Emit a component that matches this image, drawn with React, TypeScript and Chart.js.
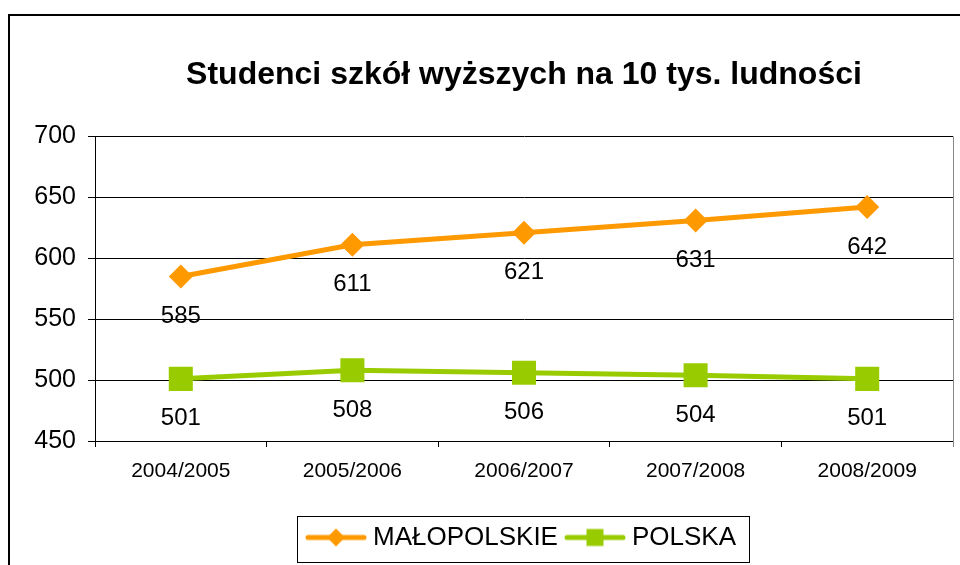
import React, { useEffect, useRef } from "react";
import { Chart, registerables } from "chart.js";

Chart.register(...registerables);

const TITLE = "Studenci szkół wyższych na 10 tys. ludności";
const categories = ["2004/2005", "2005/2006", "2006/2007", "2007/2008", "2008/2009"];
const malopolskie = [585, 611, 621, 631, 642];
const polska = [501, 508, 506, 504, 501];
const seriesNames = ["MAŁOPOLSKIE", "POLSKA"];
const yMin = 450;
const yMax = 700;
const yStep = 50;

const ORANGE = "#FF9900";
const GREEN = "#99CC00";
const FONT = "Arial, 'Liberation Sans', sans-serif";

function makeIcon(color: string, shape: "diamond" | "square") {
  const c = document.createElement("canvas");
  c.width = 62;
  c.height = 26;
  const ctx = c.getContext("2d")!;
  ctx.strokeStyle = color;
  ctx.lineWidth = 5;
  ctx.lineCap = "round";
  ctx.beginPath();
  ctx.moveTo(3, 13);
  ctx.lineTo(59, 13);
  ctx.stroke();
  ctx.fillStyle = color;
  ctx.beginPath();
  if (shape === "diamond") {
    ctx.moveTo(31, 4);
    ctx.lineTo(40, 13);
    ctx.lineTo(31, 22);
    ctx.lineTo(22, 13);
    ctx.closePath();
  } else {
    ctx.rect(22.5, 4.5, 17, 17);
  }
  ctx.fill();
  return c;
}

const framePlugin = {
  id: "frame",
  beforeDraw(chart: any) {
    const ctx = chart.ctx;
    ctx.save();
    ctx.fillStyle = "#fff";
    ctx.fillRect(0, 0, chart.width, chart.height);
    ctx.strokeStyle = "#000";
    ctx.lineWidth = 2;
    ctx.beginPath();
    ctx.moveTo(9, chart.height + 5);
    ctx.lineTo(9, 15);
    ctx.lineTo(chart.width + 5, 15);
    ctx.stroke();
    ctx.restore();
  },
  beforeDatasetsDraw(chart: any) {
    const { ctx, chartArea } = chart;
    ctx.save();
    ctx.strokeStyle = "#888";
    ctx.lineWidth = 1;
    ctx.beginPath();
    ctx.moveTo(chartArea.right + 0.5, chartArea.top);
    ctx.lineTo(chartArea.right + 0.5, chartArea.bottom + 6);
    ctx.stroke();
    ctx.restore();
  },
  afterDatasetsDraw(chart: any) {
    const ctx = chart.ctx;
    ctx.save();
    ctx.font = `24px ${FONT}`;
    ctx.fillStyle = "#000";
    ctx.textAlign = "center";
    ctx.textBaseline = "middle";
    chart.data.datasets.forEach((ds: any, i: number) => {
      const meta = chart.getDatasetMeta(i);
      meta.data.forEach((pt: any, j: number) => {
        ctx.fillText(String(ds.data[j]), pt.x, pt.y + 40);
      });
    });
    ctx.restore();
  },
  afterDraw(chart: any) {
    const lg = chart.legend;
    if (!lg || !lg.legendHitBoxes || !lg.legendHitBoxes.length) return;
    const hb = lg.legendHitBoxes;
    const first = hb[0];
    const last = hb[hb.length - 1];
    const ctx = chart.ctx;
    ctx.save();
    ctx.strokeStyle = "#000";
    ctx.lineWidth = 1;
    const left = Math.round(first.left - 14.5) + 0.5;
    const right = Math.round(last.left + last.width + 13) + 0.5;
    const top = Math.round(first.top - 8.5) + 0.5;
    const bottom = Math.round(first.top + 37.5) + 0.5;
    ctx.strokeRect(left, top, right - left, bottom - top);
    ctx.restore();
  },
};

export default function App() {
  const ref = useRef<HTMLCanvasElement>(null);
  useEffect(() => {
    const icons = [makeIcon(ORANGE, "diamond"), makeIcon(GREEN, "square")];
    const chart = new Chart(ref.current!, {
      type: "line",
      data: {
        labels: categories,
        datasets: [
          {
            label: seriesNames[0],
            data: malopolskie,
            borderColor: ORANGE,
            backgroundColor: ORANGE,
            borderWidth: 5,
            pointStyle: "rectRot",
            pointRadius: 12,
            pointBorderWidth: 0,
            pointBackgroundColor: ORANGE,
            tension: 0,
          },
          {
            label: seriesNames[1],
            data: polska,
            borderColor: GREEN,
            backgroundColor: GREEN,
            borderWidth: 5,
            pointStyle: "rect",
            pointRadius: 17,
            pointBorderWidth: 0,
            pointBackgroundColor: GREEN,
            tension: 0,
          },
        ],
      },
      options: {
        responsive: false,
        animation: false,
        devicePixelRatio: 1,
        layout: { autoPadding: false, padding: { top: 0, left: 0, right: 7, bottom: 4.5 } },
        plugins: {
          tooltip: { enabled: false },
          title: {
            display: true,
            text: TITLE,
            fullSize: false,
            color: "#000",
            font: { family: FONT, size: 32, weight: "bold" },
            padding: { top: 56, bottom: 42 },
          },
          legend: {
            display: true,
            position: "bottom",
            fullSize: false,
            labels: {
              color: "#000",
              font: { family: FONT, size: 26 },
              usePointStyle: true,
              pointStyleWidth: 48,
              padding: 13,
              generateLabels: (ch: any) =>
                ch.data.datasets.map((ds: any, i: number) => ({
                  text: ds.label,
                  pointStyle: icons[i],
                  datasetIndex: i,
                  hidden: false,
                  lineWidth: 0,
                  fillStyle: ds.borderColor,
                  strokeStyle: ds.borderColor,
                  fontColor: "#000",
                })),
            },
          },
        },
        scales: {
          x: {
            offset: true,
            grid: {
              offset: true,
              drawOnChartArea: false,
              drawTicks: true,
              tickLength: 6,
              color: "#000",
            },
            border: { display: true, color: "#000", width: 1 },
            ticks: {
              color: "#000",
              font: { family: FONT, size: 21 },
              padding: 12,
              maxRotation: 0,
            },
            afterFit: (s: any) => {
              s.height = 70.5;
              s.paddingLeft = 0;
              s.paddingRight = 0;
            },
          },
          y: {
            min: yMin,
            max: yMax,
            grid: {
              color: "#000",
              lineWidth: 1,
              drawTicks: true,
              tickLength: 7,
            },
            border: { display: true, color: "#000", width: 1 },
            ticks: {
              stepSize: yStep,
              color: "#000",
              font: { family: FONT, size: 25 },
              padding: 12,
            },
            afterFit: (s: any) => {
              s.width = 95;
            },
          },
        },
      },
      plugins: [framePlugin],
    });
    return () => chart.destroy();
  }, []);
  return (
    <div style={{ position: "absolute", left: 0, top: 0, width: 960, height: 565 }}>
      <canvas ref={ref} width={960} height={565} style={{ display: "block" }} />
    </div>
  );
}
